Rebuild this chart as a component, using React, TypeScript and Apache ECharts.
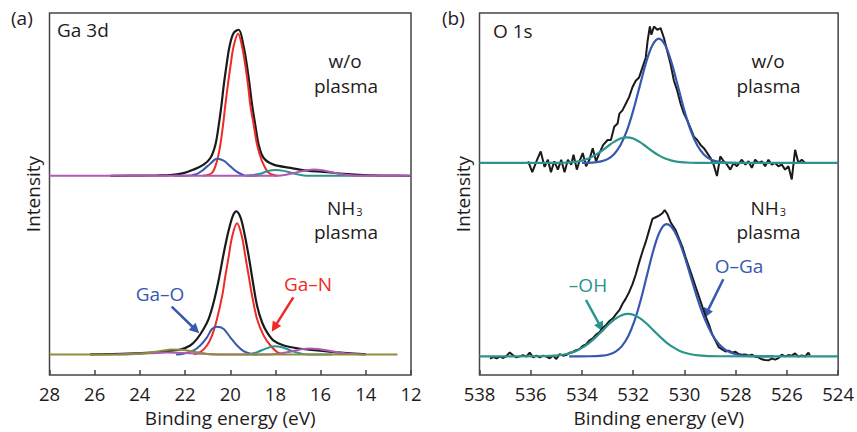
import React, { useEffect, useRef } from 'react';
import * as echarts from 'echarts';

const FONT = '"Open Sans", "DejaVu Sans", sans-serif';
const TXT = '#1f1b1c';
const C_BLACK = '#1a1a1a';
const C_RED = '#ee2a24';
const C_BLUE = '#3658b0';
const C_TEAL = '#2b948c';
const C_PURPLE = '#b05ab8';
const C_OLIVE = '#8e8c3e';
const C_AXIS = '#454545';

// ---- Panel (a): Ga 3d (binding energy in eV, heights above each spectrum's baseline, a.u.)
const GA_TICKS = [28, 26, 24, 22, 20, 18, 16, 14, 12];
const OFFSET_A_TOP = 202; // w/o plasma baseline
const OFFSET_A_BOT = 21;  // NH3 plasma baseline

const A_TOP_BLACK_E = [25.3, 24.0, 23.2, 22.66, 22.07, 21.62, 21.18, 20.88, 20.66, 20.51, 20.39, 20.29, 20.17, 20.03, 19.85, 19.63, 19.41, 19.26, 19.14, 19.03, 18.89, 18.74, 18.52, 18.08, 17.33, 16.59, 15.86, 14.97, 14.08, 13.0, 12.0];
const A_TOP_BLACK_H = [0, 0.2, 0.4, 0.7, 2.7, 6.3, 11.3, 18, 31.3, 51.3, 71.3, 91.3, 111.3, 131.3, 144.7, 148, 131.3, 111.3, 91.3, 71.3, 51.3, 31.3, 18, 11.3, 8, 5.3, 4, 2, 0.7, 0.2, 0];
const A_TOP_RED_E = [21.2, 20.81, 20.59, 20.44, 20.32, 20.22, 20.11, 19.99, 19.85, 19.65, 19.48, 19.33, 19.21, 19.11, 18.96, 18.81, 18.59, 18.30, 17.9];
const A_TOP_RED_H = [0, 3, 14.7, 31.3, 51.3, 71.3, 91.3, 111.3, 131.3, 144, 131.3, 111.3, 91.3, 71.3, 51.3, 31.3, 14.7, 3, 0];
const A_TOP_BLUE_E = [22.5, 22.0, 21.47, 21.18, 20.88, 20.59, 20.29, 20.0, 19.70, 19.41, 19.26, 18.8];
const A_TOP_BLUE_H = [0, 0, 2, 6.3, 12.3, 17.3, 15.3, 9.7, 4, 0.7, 0, 0];
const A_TOP_TEAL_E = [19.3, 19.11, 18.67, 18.37, 18.0, 17.63, 17.19, 16.74, 16.45, 14.0];
const A_TOP_TEAL_H = [0, 0.5, 2, 4.7, 6, 5, 2.3, 0.3, 0, 0];
const A_TOP_PURPLE_E = [28, 17.92, 17.48, 17.04, 16.59, 16.30, 15.86, 15.41, 14.97, 14.38, 12];
const A_TOP_PURPLE_H = [0, 0, 1.3, 3.7, 5.7, 6.3, 5.3, 3, 1.3, 0, 0];

const A_BOT_BLACK_E = [26.2, 24.5, 23.1, 22.66, 22.21, 21.77, 21.47, 21.18, 20.96, 20.74, 20.51, 20.29, 20.07, 19.88, 19.73, 19.55, 19.37, 19.18, 18.99, 18.81, 18.59, 18.37, 18.08, 17.63, 16.89, 16.15, 15.41, 14.53, 14.0];
const A_BOT_BLACK_H = [0, 0.8, 2.3, 3.7, 5, 9, 15.7, 25.7, 35.7, 52.3, 75.7, 102.3, 125.7, 140.7, 145, 139, 122.3, 99, 72.3, 49, 32.3, 22.3, 14, 9, 5.7, 4, 2.3, 0.7, 0];
const A_BOT_RED_E = [21.62, 21.33, 21.03, 20.81, 20.59, 20.36, 20.22, 20.07, 19.92, 19.70, 19.48, 19.33, 19.18, 19.03, 18.81, 18.52, 18.22, 17.92, 17.62];
const A_BOT_RED_H = [0, 2.3, 9, 19, 35.7, 59, 79, 99, 119, 133, 119, 99, 79, 59, 35.7, 19, 9, 2.3, 0];
const A_BOT_BLUE_E = [22.4, 22.07, 21.62, 21.33, 21.03, 20.81, 20.59, 20.29, 20.0, 19.70, 19.41, 19.11, 18.81];
const A_BOT_BLUE_H = [0, 0.7, 4, 9, 17.3, 25.7, 28, 25.7, 17.3, 9, 3.3, 0.7, 0];
const A_BOT_TEAL_E = [19.25, 18.81, 18.44, 18.07, 17.70, 17.33, 16.89, 16.6, 15.5];
const A_BOT_TEAL_H = [0, 2.3, 5.7, 8.3, 7.3, 4, 1, 0, 0];
const A_BOT_PURPLE_E = [25.0, 24.2, 23.5, 22.8, 22.0, 21.2, 20.5, 19.5, 18.3, 17.8, 17.3, 16.9, 16.5, 16.1, 15.7, 15.3, 14.9, 14.5, 14.2];
const A_BOT_PURPLE_H = [0, 0.5, 1.2, 1.8, 1.5, 0.6, 0, 0, 0, 1, 3, 5, 6, 5.5, 4, 2.3, 1, 0.3, 0];
const A_BOT_OLIVE_E = [28, 24.6, 24.0, 23.5, 23.0, 22.6, 22.2, 21.8, 21.4, 21.0, 20.7, 12.6];
const A_BOT_OLIVE_H = [0, 0, 0.8, 2, 3.8, 5, 4.8, 3.5, 1.8, 0.5, 0, 0];

// ---- Panel (b): O 1s
const O_TICKS = [538, 536, 534, 532, 530, 528, 526, 524];
const OFFSET_B_TOP = 215;
const OFFSET_B_BOT = 19;

const B_TOP_BLACK_E = [536.10, 535.94, 535.75, 535.61, 535.46, 535.33, 535.21, 535.08, 534.94, 534.81, 534.68, 534.55, 534.42, 534.33, 534.20, 534.10, 533.97, 533.84, 533.71, 533.58, 533.45, 533.32, 533.17, 533.00, 532.87, 532.74, 532.61, 532.54, 532.42, 532.29, 532.16, 532.03, 531.90, 531.77, 531.64, 531.51, 531.44, 531.35, 531.29, 531.19, 531.06, 530.93, 530.80, 530.67, 530.54, 530.41, 530.28, 530.15, 530.02, 529.89, 529.76, 529.63, 529.50, 529.37, 529.24, 529.11, 528.98, 528.86, 528.73, 528.60, 528.47, 528.34, 528.21, 528.08, 527.95, 527.76, 527.62, 527.50, 527.37, 527.24, 527.11, 526.98, 526.85, 526.72, 526.59, 526.46, 526.33, 526.20, 526.07, 525.94, 525.81, 525.68, 525.55, 525.42, 525.29];
const B_TOP_BLACK_H = [1.7, -9.3, 3.3, 11.7, -4, 3.3, -9.3, 1.7, -6.7, 3.3, -9.3, 3.3, -1.7, 8.3, -6.7, 1.7, 10, -3.3, 3.3, 15, 1.7, 10, 18.3, 23.3, 23.3, 36.7, 40, 50, 53.3, 60, 66.7, 76.7, 83.3, 86.7, 96.7, 106.7, 123.3, 138.3, 130, 138.3, 135, 136.7, 126.7, 113.3, 100, 83.3, 73.3, 60, 50, 43.3, 35, 26.7, 23.3, 18.3, 15, 10, 5, -1.7, -13.3, 6.7, 1.7, -1.7, -6.7, 0, -3.3, 3.3, -1.7, 1.7, -5, 3.3, 0, 1.7, -3.3, 3.3, -1.7, 0, -3.3, -1.7, -6.7, -3.3, -16.7, 13.3, 0, 3.3, 0];
const B_TOP_BLUE_E = [534.0, 533.5, 533.25, 533.0, 532.75, 532.5, 532.25, 532.0, 531.75, 531.5, 531.25, 531.0, 530.75, 530.5, 530.25, 530.0, 529.75, 529.5, 529.25, 529.0, 528.75, 528.5, 528.0];
const B_TOP_BLUE_H = [0, 0.6, 1.6, 3.9, 8.9, 18.0, 32.5, 53.0, 77.4, 101.4, 119.3, 126, 119.3, 101.4, 77.4, 53.0, 32.5, 18.0, 8.9, 3.9, 1.6, 0.6, 0];
const B_TOP_TEAL_E = [538, 535.25, 534.75, 534.25, 534.0, 533.75, 533.5, 533.25, 533.0, 532.75, 532.5, 532.25, 532.0, 531.75, 531.5, 531.25, 531.0, 530.75, 530.5, 530.25, 529.75, 529.25, 524];
const B_TOP_TEAL_H = [0, 0, 0.2, 1.1, 2.4, 4.5, 7.7, 11.9, 16.8, 21.4, 24.8, 26, 24.8, 21.4, 16.8, 11.9, 7.7, 4.5, 2.4, 1.1, 0.2, 0, 0];

const B_BOT_BLACK_E = [537.59, 537.46, 537.33, 537.20, 537.07, 536.95, 536.82, 536.69, 536.56, 536.43, 536.30, 536.17, 536.04, 535.91, 535.78, 535.65, 535.52, 535.39, 535.26, 535.13, 535.00, 534.87, 534.74, 534.62, 534.49, 534.36, 534.23, 534.10, 533.97, 533.84, 533.71, 533.58, 533.45, 533.32, 533.19, 533.06, 532.93, 532.80, 532.67, 532.54, 532.42, 532.29, 532.16, 532.03, 531.90, 531.77, 531.64, 531.51, 531.38, 531.25, 531.12, 530.99, 530.86, 530.77, 530.67, 530.54, 530.34, 530.21, 530.08, 529.96, 529.83, 529.70, 529.57, 529.44, 529.31, 529.18, 529.05, 528.92, 528.79, 528.66, 528.53, 528.40, 528.27, 528.14, 528.01, 527.88, 527.76, 527.63, 527.50, 527.37, 527.24, 527.11, 526.98, 526.85, 526.72, 526.59, 526.46, 526.33, 526.20, 526.07, 525.94, 525.81, 525.68, 525.55, 525.42, 525.29, 525.16, 525.10];
const B_BOT_BLACK_H = [-2.3, -0.7, -2, -0.3, -1.7, 0.3, 4, 1, -1, 0, 1.3, -0.3, 3.7, -1, 0.7, -1, 0.7, -0.3, -2, 0.7, -2.7, 2.3, 0.7, 1.3, 3.6, 4.2, 6.3, 7.2, 10.6, 12.1, 16.2, 18.1, 22, 24.3, 28.8, 31.8, 35.8, 38.3, 42.8, 46.8, 53, 58.5, 65, 73, 83, 95, 106, 116, 127.7, 139.3, 141, 142.7, 145, 148.3, 144.3, 136, 127.7, 119.3, 111, 101, 91, 81, 71, 61, 51, 41, 32.7, 22.7, 16, 9.3, 7, 5, 5.7, 3.7, 4.7, 2.3, 1.7, 2, 0.7, 1.7, -0.3, -1, -3, -3.7, -4, -2.3, -3.3, -1.7, 1.7, 0, 1.3, 0.7, 3, -0.3, 1, -0.3, 3.7, 0.7];
const B_BOT_BLUE_E = [534.5, 533.7, 533.2, 532.95, 532.7, 532.45, 532.2, 531.95, 531.7, 531.45, 531.2, 530.95, 530.7, 530.45, 530.2, 529.95, 529.7, 529.45, 529.2, 528.95, 528.7, 528.45, 528.2, 527.95, 527.7, 527.2, 526.5];
const B_BOT_BLUE_H = [0, 0.1, 0.7, 1.9, 4.6, 10.1, 20.1, 35.9, 57.7, 83.4, 108.5, 127.1, 134, 129.3, 116.3, 97.5, 76.1, 55.3, 37.5, 23.7, 13.9, 7.6, 3.9, 1.9, 0.8, 0.1, 0];
const B_BOT_TEAL_E = [538, 535.7, 535.2, 534.95, 534.7, 534.45, 534.2, 533.95, 533.7, 533.45, 533.2, 532.95, 532.7, 532.45, 532.2, 531.95, 531.7, 531.45, 531.2, 530.95, 530.7, 530.45, 530.2, 529.95, 529.7, 529.45, 529.2, 528.7, 524];
const B_BOT_TEAL_H = [0, 0.1, 0.5, 1.0, 1.9, 3.4, 5.8, 9.3, 14.0, 19.7, 26.1, 32.5, 37.9, 41.7, 43, 41.7, 37.9, 32.5, 26.1, 19.7, 14.0, 9.3, 5.8, 3.4, 1.9, 1.0, 0.5, 0.1, 0];

function line(E: number[], H: number[], off: number, color: string, axis: number, width = 2, smooth: number | boolean = 0.35) {
  return {
    type: 'line',
    xAxisIndex: axis,
    yAxisIndex: axis,
    data: E.map((e, i) => [e, H[i] + off]),
    showSymbol: false,
    smooth,
    silent: true,
    lineStyle: { color, width },
  };
}

function arrow(x1: number, y1: number, x2: number, y2: number, color: string) {
  const dx = x2 - x1, dy = y2 - y1;
  const L = Math.hypot(dx, dy);
  const ux = dx / L, uy = dy / L;
  const hl = 10, hw = 5;
  const bx = x2 - ux * hl, by = y2 - uy * hl;
  return [
    { type: 'line', shape: { x1, y1, x2: bx + ux * 2, y2: by + uy * 2 }, style: { stroke: color, lineWidth: 2.5 } },
    { type: 'polygon', shape: { points: [[x2, y2], [bx - uy * hw, by + ux * hw], [bx + uy * hw, by - ux * hw]] }, style: { fill: color } },
  ];
}

function txt(text: string, x: number, y: number, color = TXT, align = 'center', size = 19) {
  return { type: 'text', x, y, style: { text, fill: color, fontSize: size, fontFamily: FONT, align, verticalAlign: 'middle' } };
}

function nh3(x: number, y: number) {
  return {
    type: 'text', x, y,
    style: {
      text: '{a|NH}{b|3}', fill: TXT, fontFamily: FONT, align: 'left', verticalAlign: 'middle',
      rich: {
        a: { fontSize: 19, fontFamily: FONT, fill: TXT, lineHeight: 20, verticalAlign: 'bottom' },
        b: { fontSize: 11, fontFamily: FONT, fill: TXT, lineHeight: 12, verticalAlign: 'bottom', padding: [0, 0, 0, 1] },
      },
    },
  };
}

function xAxisFor(grid: number, min: number, max: number) {
  return {
    type: 'value', gridIndex: grid, min, max, interval: 2, inverse: true,
    axisLine: { show: false },
    axisTick: { show: true, inside: true, length: 5, lineStyle: { color: C_AXIS, width: 1.5 } },
    axisLabel: { fontSize: 18.5, color: TXT, fontFamily: FONT, margin: 9, showMinLabel: true, showMaxLabel: true },
    splitLine: { show: false },
    name: 'Binding energy (eV)', nameLocation: 'middle', nameGap: 28,
    nameTextStyle: { fontSize: 19, color: TXT, fontFamily: FONT },
  };
}

function yAxisFor(grid: number) {
  return {
    type: 'value', gridIndex: grid, min: 0, max: 367,
    axisLine: { show: false }, axisTick: { show: false }, axisLabel: { show: false }, splitLine: { show: false },
    name: 'Intensity', nameLocation: 'middle', nameGap: 7, nameRotate: 90,
    nameTextStyle: { fontSize: 19, color: TXT, fontFamily: FONT },
  };
}

export default function App() {
  const ref = useRef<HTMLDivElement>(null);
  useEffect(() => {
    if (!ref.current) return;
    const chart = echarts.init(ref.current, null, { renderer: 'svg' });
    const option = {
      animation: false,
      backgroundColor: '#ffffff',
      grid: [
        { left: 49.5, top: 13, width: 361.5, height: 367, show: true, borderColor: C_AXIS, borderWidth: 1.5, backgroundColor: 'transparent' },
        { left: 479.5, top: 13, width: 360.5, height: 367, show: true, borderColor: C_AXIS, borderWidth: 1.5, backgroundColor: 'transparent' },
      ],
      xAxis: [xAxisFor(0, GA_TICKS[GA_TICKS.length - 1], GA_TICKS[0]), xAxisFor(1, O_TICKS[O_TICKS.length - 1], O_TICKS[0])],
      yAxis: [yAxisFor(0), yAxisFor(1)],
      series: [
        line(A_TOP_BLACK_E, A_TOP_BLACK_H, OFFSET_A_TOP, C_BLACK, 0, 2.2),
        line(A_TOP_RED_E, A_TOP_RED_H, OFFSET_A_TOP, C_RED, 0),
        line(A_TOP_BLUE_E, A_TOP_BLUE_H, OFFSET_A_TOP, C_BLUE, 0),
        line(A_TOP_TEAL_E, A_TOP_TEAL_H, OFFSET_A_TOP, C_TEAL, 0),
        line(A_TOP_PURPLE_E, A_TOP_PURPLE_H, OFFSET_A_TOP, C_PURPLE, 0),
        line(A_BOT_BLACK_E, A_BOT_BLACK_H, OFFSET_A_BOT, C_BLACK, 0, 2.2),
        line(A_BOT_RED_E, A_BOT_RED_H, OFFSET_A_BOT, C_RED, 0),
        line(A_BOT_BLUE_E, A_BOT_BLUE_H, OFFSET_A_BOT, C_BLUE, 0),
        line(A_BOT_TEAL_E, A_BOT_TEAL_H, OFFSET_A_BOT, C_TEAL, 0),
        line(A_BOT_PURPLE_E, A_BOT_PURPLE_H, OFFSET_A_BOT, C_PURPLE, 0),
        line(A_BOT_OLIVE_E, A_BOT_OLIVE_H, OFFSET_A_BOT, C_OLIVE, 0),
        line(B_TOP_BLACK_E, B_TOP_BLACK_H, OFFSET_B_TOP, C_BLACK, 1, 2, false),
        line(B_TOP_BLUE_E, B_TOP_BLUE_H, OFFSET_B_TOP, C_BLUE, 1, 2.2),
        line(B_TOP_TEAL_E, B_TOP_TEAL_H, OFFSET_B_TOP, C_TEAL, 1, 2.2),
        line(B_BOT_BLACK_E, B_BOT_BLACK_H, OFFSET_B_BOT, C_BLACK, 1, 2, false),
        line(B_BOT_BLUE_E, B_BOT_BLUE_H, OFFSET_B_BOT, C_BLUE, 1, 2.2),
        line(B_BOT_TEAL_E, B_BOT_TEAL_H, OFFSET_B_BOT, C_TEAL, 1, 2.2),
      ],
      graphic: [
        txt('(a)', 11, 18, TXT, 'left'),
        txt('(b)', 442, 18, TXT, 'left'),
        txt('Ga 3d', 57, 29.5, TXT, 'left'),
        txt('O 1s', 493, 30.5, TXT, 'left'),
        txt('w/o', 345, 60.5),
        txt('plasma', 346, 86),
        nh3(327, 207),
        txt('plasma', 346, 232),
        txt('w/o', 768, 60.5),
        txt('plasma', 768.5, 86),
        nh3(750.5, 207),
        txt('plasma', 768.5, 232),
        txt('Ga–O', 160, 294, C_BLUE),
        txt('Ga–N', 308, 284, C_RED),
        txt('–OH', 588, 285, C_TEAL),
        txt('O–Ga', 739, 265.5, C_BLUE),
        ...arrow(171.7, 306.7, 199.3, 333.3, C_BLUE),
        ...arrow(293.3, 297.3, 271.7, 331.7, C_RED),
        ...arrow(586, 300, 603.3, 331.7, C_TEAL),
        ...arrow(723.3, 279.3, 704, 318.3, C_BLUE),
      ],
    };
    chart.setOption(option as any);
    return () => chart.dispose();
  }, []);
  return <div ref={ref} style={{ position: 'fixed', left: 0, top: 0, width: 857, height: 432, background: '#fff' }} />;
}
